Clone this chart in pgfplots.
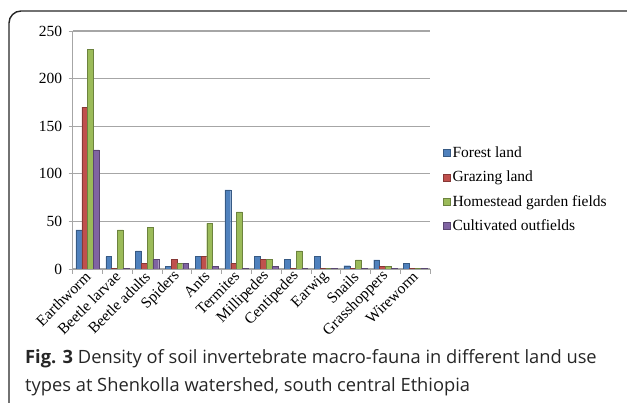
\documentclass[border=0pt]{standalone}
\usepackage{pgfplots}
\pgfplotsset{compat=1.18}
\usepackage{fontspec}
\setmainfont{Liberation Serif}
\newfontfamily\capfont{Open Sans}
\definecolor{cBlue}{HTML}{4F81BD}
\definecolor{cRed}{HTML}{C0504D}
\definecolor{cGreen}{HTML}{9BBB59}
\definecolor{cPurple}{HTML}{8064A2}
\definecolor{gridc}{HTML}{A6A6A6}
\begin{document}
\begin{tikzpicture}
\useasboundingbox (0,0) rectangle (627pt,415pt);
\draw[line width=1.4pt, black!85, rounded corners=12pt] (9pt,12pt) -- (9pt,404pt) -- (627pt,404pt);
\begin{axis}[
  at={(72.7pt,146pt)}, anchor=south west,
  scale only axis, width=357.3pt, height=238pt,
  ybar=0pt, bar width=5.8pt,
  xmin=-0.5, xmax=11.5, ymin=0, ymax=250,
  ytick={0,50,...,250},
  xtick={0,...,11},
  xticklabels={Earthworm,Beetle larvae,Beetle adults,Spiders,Ants,Termites,Millipedes,Centipedes,Earwig,Snails,Grasshoppers,Wireworm},
  minor xtick={-0.5,0.5,...,11.5},
  major x tick style={draw=none},
  tick align=outside,
  major tick length=4pt, minor tick length=5pt,
  tick style={gridc, line width=0.8pt},
  axis x line*=bottom, axis y line*=left,
  axis line style={gridc, line width=1pt},
  ymajorgrids, grid style={gridc, line width=1.2pt},
  /pgf/number format/assume math mode=true,
  tick label style={font=\fontsize{15.5}{17}\selectfont},
  xticklabel style={rotate=45, anchor=east, xshift=3pt, yshift=-1pt},
  yticklabel style={xshift=-3pt},
  legend style={at={(1.028,0.334)}, anchor=west, draw=none, fill=none,
    font=\fontsize{15.5}{17}\selectfont, row sep=8pt,
    /tikz/every odd column/.append style={column sep=0pt}},
  legend cell align=left,
  legend image code/.code={\fill[#1] (0pt,-3.5pt) rectangle (7pt,3.5pt);},
]
\addplot[fill=cBlue, draw=cBlue!70!black, line width=0.3pt] coordinates {(0,41) (1,13) (2,19) (3,3) (4,13) (5,83) (6,13) (7,10) (8,13) (9,3.5) (10,9.5) (11,6)};
\addplot[fill=cRed, draw=cRed!70!black, line width=0.3pt] coordinates {(0,170) (1,1) (2,6) (3,10) (4,13) (5,6) (6,10) (7,1) (8,0.8) (9,0.8) (10,3) (11,0.8)};
\addplot[fill=cGreen, draw=cGreen!70!black, line width=0.3pt] coordinates {(0,231) (1,41) (2,44) (3,6) (4,48) (5,60) (6,10) (7,19) (8,0.8) (9,9.5) (10,3) (11,0.8)};
\addplot[fill=cPurple, draw=cPurple!70!black, line width=0.3pt] coordinates {(0,125) (1,1) (2,10) (3,6) (4,3) (5,0.5) (6,3) (7,1) (8,0.8) (9,0.8) (10,0.8) (11,0.8)};
\legend{Forest land,Grazing land,Homestead garden fields,Cultivated outfields}
\end{axis}
\node[anchor=base west, inner sep=0pt, font=\capfont\fontsize{18.3}{20}\selectfont, text=black!85] at (25pt,51pt) {\textbf{Fig. 3} Density of soil invertebrate macro-fauna in different land use};
\node[anchor=base west, inner sep=0pt, font=\capfont\fontsize{18.3}{20}\selectfont, text=black!85] at (25pt,23pt) {types at Shenkolla watershed, south central Ethiopia};
\end{tikzpicture}
\end{document}
